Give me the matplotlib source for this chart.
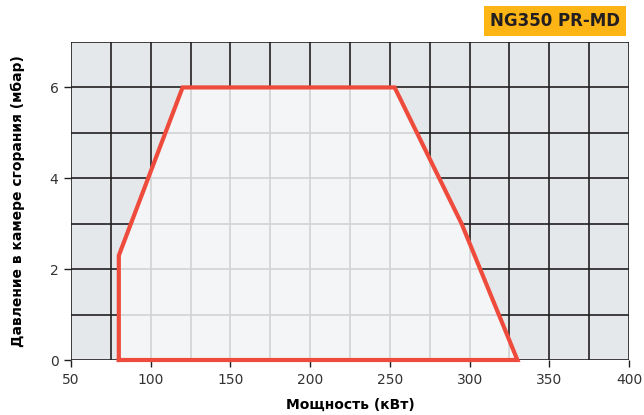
import numpy as np
import matplotlib.pyplot as plt
from matplotlib.patches import Polygon

# рабочее поле горелки NG350 PR-MD
power = [80, 80, 120, 253, 295, 330]      # кВт
pressure = [0, 2.3, 6, 6, 3, 0]           # мбар

x_ticks = [50, 100, 150, 200, 250, 300, 350, 400]
y_ticks = [0, 2, 4, 6]

fig = plt.figure(figsize=(6.44, 4.15), dpi=100)
ax = fig.add_axes([71/644, 1 - 360/415, (629-71)/644, (360-42)/415])
ax.set_xlim(50, 400)
ax.set_ylim(0, 7)
ax.set_facecolor('#e5e8eb')

# black grid outside the envelope
for xv in np.arange(50, 401, 25):
    ax.axvline(xv, color='#231f20', lw=1.2, zorder=1)
for yv in np.arange(0, 8, 1):
    ax.axhline(yv, color='#231f20', lw=1.2, zorder=1)

pts = np.column_stack([power, pressure])
poly = Polygon(pts, closed=True, facecolor='#f4f5f7', edgecolor='none', zorder=2)
ax.add_patch(poly)

# light grid inside the envelope
for xv in np.arange(50, 401, 25):
    ln = ax.axvline(xv, color='#d2d3d5', lw=1.2, zorder=3)
    ln.set_clip_path(poly)
for yv in np.arange(0, 8, 1):
    ln = ax.axhline(yv, color='#d2d3d5', lw=1.2, zorder=3)
    ln.set_clip_path(poly)

ax.plot(power + [power[0]], pressure + [pressure[0]], color='#ef4b3c', lw=3,
        solid_joinstyle='miter', zorder=4, clip_on=False)

for s in ax.spines.values():
    s.set_visible(False)

ax.set_xticks(x_ticks)
ax.set_yticks(y_ticks)
ax.tick_params(axis='both', length=5, width=1, color='#231f20', labelsize=10,
               labelcolor='#333333', pad=4)

ax.set_xlabel('Мощность (кВт)', fontsize=10, fontweight='heavy', labelpad=8)
ax.set_ylabel('Давление в камере сгорания (мбар)', fontsize=10, fontweight='heavy',
              labelpad=18)

fig.text(555/644, 1 - 21/415, 'NG350 PR-MD', fontsize=12, fontweight='heavy',
         ha='center', va='center', color='#231f20',
         bbox=dict(boxstyle='square,pad=0.35', facecolor='#fdb515', edgecolor='none'))

fig.savefig('out.png', dpi=100)
